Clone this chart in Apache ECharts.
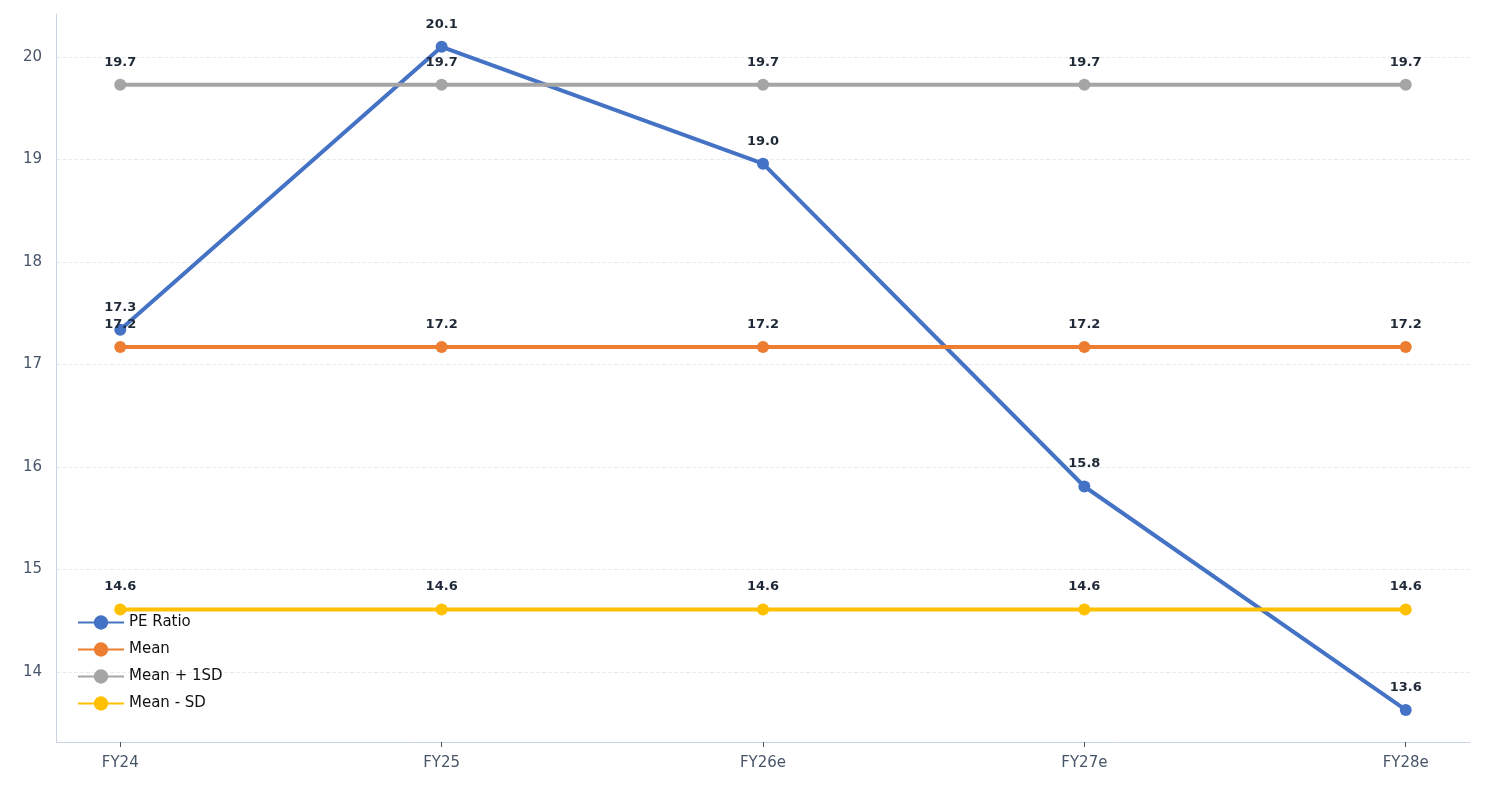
<!DOCTYPE html>
<html>
<head>
<meta charset="utf-8">
<script src="https://cdn.jsdelivr.net/npm/echarts@6/dist/echarts.min.js"></script>
</head>
<body style="margin:0">
<div id="main" style="width:1485px;height:792px;"></div>
<script>
var categories = ['FY24', 'FY25', 'FY26e', 'FY27e', 'FY28e'];
var peRatio = [17.34, 20.1, 18.96, 15.81, 13.63];
var meanVals = [17.17, 17.17, 17.17, 17.17, 17.17];
var plusSd = [19.73, 19.73, 19.73, 19.73, 19.73];
var minusSd = [14.61, 14.61, 14.61, 14.61, 14.61];
var yTicks = [14, 15, 16, 17, 18, 19, 20];

var myChart = echarts.init(document.getElementById('main'));
function mk(name, data, color) {
  return {
    name: name, type: 'line', data: data.map(function (v, i) { return [i, v]; }),
    symbol: 'circle', symbolSize: 12,
    lineStyle: { width: 4, color: color }, itemStyle: { color: color },
    label: { show: true, position: 'top', distance: 10, color: '#1f2937', fontWeight: 'bold', fontSize: 13,
      fontFamily: 'DejaVu Sans',
      formatter: function (p) { return p.value[1].toFixed(1); } }
  };
}
myChart.setOption({
  animation: false,
  textStyle: { fontFamily: 'DejaVu Sans' },
  grid: { left: 56, right: 15, top: 14, bottom: 50 },
  legend: {
    orient: 'vertical', left: 72, top: 610, itemGap: 12, itemWidth: 46, itemHeight: 18,
    textStyle: { fontSize: 15, color: '#111', fontFamily: 'DejaVu Sans' }
  },
  xAxis: {
    type: 'value', min: -0.2, max: 4.2, interval: 1,
    axisLine: { onZero: false, lineStyle: { color: '#cbd5e1' } },
    axisTick: { show: true, customValues: [0, 1, 2, 3, 4], lineStyle: { color: '#475569' } },
    axisLabel: { customValues: [0, 1, 2, 3, 4], fontSize: 15, color: '#475569', margin: 14,
      formatter: function (v) { return categories[Math.round(v)]; } },
    splitLine: { show: false }
  },
  yAxis: {
    type: 'value', min: 13.317, max: 20.42,
    axisLine: { show: true, onZero: false, lineStyle: { color: '#cbd5e1' } },
    axisTick: { show: false, customValues: yTicks },
    axisLabel: { customValues: yTicks, fontSize: 15, color: '#475569', margin: 14 },
    splitLine: { show: true, lineStyle: { type: 'dashed', color: '#e8ecf1' } }
  },
  series: [
    mk('PE Ratio', peRatio, '#4472c4'),
    mk('Mean', meanVals, '#ed7d31'),
    mk('Mean + 1SD', plusSd, '#a5a5a5'),
    mk('Mean - SD', minusSd, '#ffc000')
  ]
});
</script>
</body>
</html>
